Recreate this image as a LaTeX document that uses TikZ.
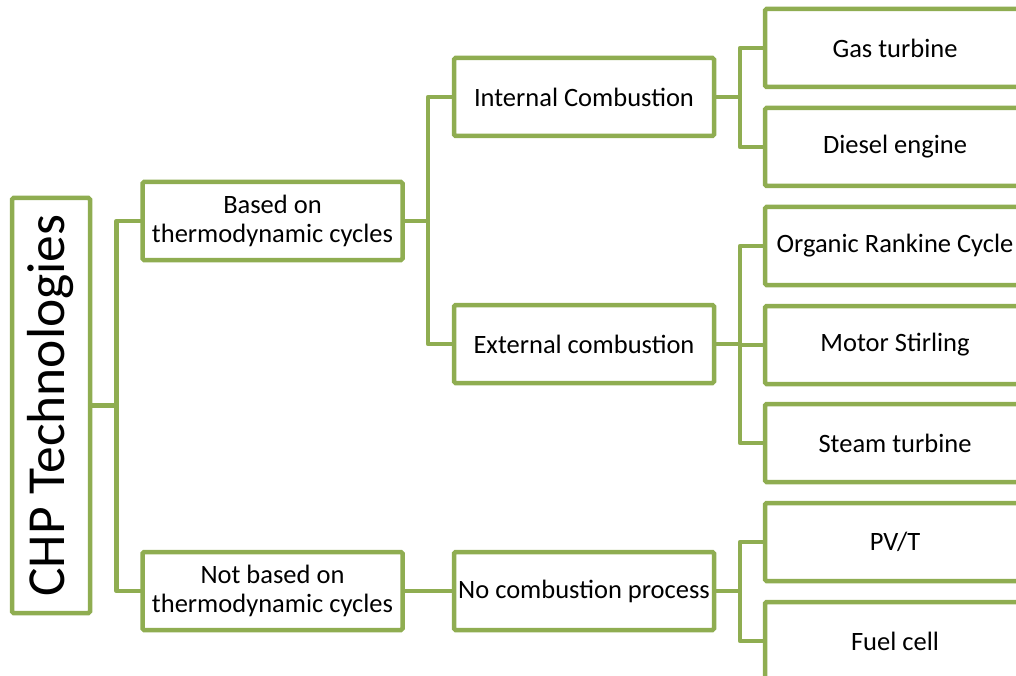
\documentclass[tikz,border=0pt]{standalone}
\usepackage{fontspec}
\setmainfont{Carlito}
\definecolor{chpgreen}{RGB}{143,173,81}
\tikzset{
  box/.style={draw=chpgreen, line width=4.5pt, fill=white, rounded corners=1.5pt,
    minimum width=260pt, minimum height=78pt, inner sep=0pt, outer sep=0pt,
    align=center, text=black, font=\fontsize{26.5}{29}\selectfont},
  link/.style={draw=chpgreen, line width=4.5pt, line join=round}
}
\begin{document}
\begin{tikzpicture}[x=1pt,y=-1pt]
\useasboundingbox (0,0) rectangle (1016,676);
\clip (0,0) rectangle (1016,676);
% root
\node[box, minimum width=78pt, minimum height=415pt] (chp) at (51,405.5) {};
\node[rotate=90, text=black, font=\fontsize{53.5}{60}\selectfont, inner sep=0pt] (chptext) at (chp.center) {CHP Technologies};
% level 1
\node[box] (based) at (272.5,221) {Based on\\thermodynamic cycles};
\node[box] (notbased) at (272.5,591) {Not based on\\thermodynamic cycles};
% level 2
\node[box] (ic) at (584,97) {Internal Combustion};
\node[box] (ec) at (584,344) {External combustion};
\node[box] (nc) at (584,591) {No combustion process};
% level 3
\node[box] (gas) at (895,48) {Gas turbine};
\node[box] (diesel) at (895,147) {Diesel engine};
\node[box] (orc) at (895,246) {Organic Rankine Cycle};
\node[box] (stirling) at (895,345) {Motor Stirling};
\node[box] (steam) at (895,443) {Steam turbine};
\node[box] (pvt) at (895,542) {PV/T};
\node[box] (fuel) at (895,641) {Fuel cell};
% connectors
\draw[link] (chp.east) -- ++(26.5,0) |- (based.west);
\draw[link] (chp.east) -- ++(26.5,0) |- (notbased.west);
\draw[link] (based.east) -- ++(25.5,0) |- (ic.west);
\draw[link] (based.east) -- ++(25.5,0) |- (ec.west);
\draw[link] (notbased.east) -- (nc.west);
\draw[link] (ic.east) -- ++(26,0) |- (gas.west);
\draw[link] (ic.east) -- ++(26,0) |- (diesel.west);
\draw[link] (ec.east) -- ++(26,0) |- (orc.west);
\draw[link] (ec.east) -- ++(26,0) |- (stirling.west);
\draw[link] (ec.east) -- ++(26,0) |- (steam.west);
\draw[link] (nc.east) -- ++(26,0) |- (pvt.west);
\draw[link] (nc.east) -- ++(26,0) |- (fuel.west);
\end{tikzpicture}
\end{document}
